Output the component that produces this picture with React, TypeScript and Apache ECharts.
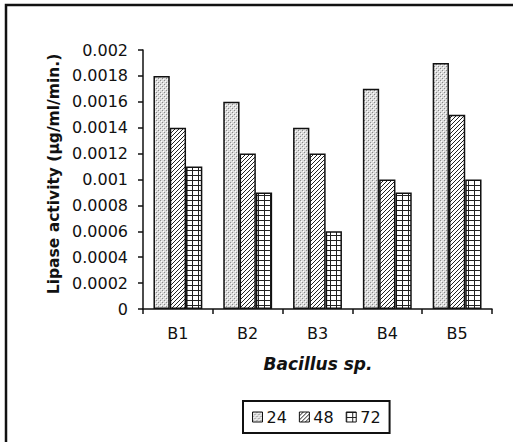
import React, { useEffect, useRef } from "react";
import * as echarts from "echarts";

const categories = ["B1", "B2", "B3", "B4", "B5"];
const seriesNames = ["24", "48", "72"];
const values24 = [0.0018, 0.0016, 0.0014, 0.0017, 0.0019];
const values48 = [0.0014, 0.0012, 0.0012, 0.001, 0.0015];
const values72 = [0.0011, 0.0009, 0.0006, 0.0009, 0.001];
const yTickLabels: Record<string, string> = {
  "0": "0", "0.0002": "0.0002", "0.0004": "0.0004", "0.0006": "0.0006", "0.0008": "0.0008",
  "0.001": "0.001", "0.0012": "0.0012", "0.0014": "0.0014", "0.0016": "0.0016", "0.0018": "0.0018", "0.002": "0.002",
};

function makeTile(kind: string) {
  const c = document.createElement("canvas");
  let w = 4, h = 4;
  if (kind === "brick") { w = 6; h = 5; }
  c.width = w; c.height = h;
  const ctx = c.getContext("2d")!;
  ctx.fillStyle = "#fff";
  ctx.fillRect(0, 0, w, h);
  if (kind === "dots") {
    ctx.fillStyle = "#dcdcdc";
    ctx.fillRect(0, 0, w, h);
    ctx.fillStyle = "#8a8a8a";
    ctx.fillRect(0, 0, 1, 1);
    ctx.fillRect(2, 2, 1, 1);
    ctx.fillStyle = "#ffffff";
    ctx.fillRect(1, 1, 1, 1);
    ctx.fillRect(3, 3, 1, 1);
  } else if (kind === "diag") {
    ctx.strokeStyle = "#222";
    ctx.lineWidth = 1;
    ctx.beginPath();
    ctx.moveTo(-1, 5); ctx.lineTo(5, -1);
    ctx.moveTo(-1, 1); ctx.lineTo(1, -1);
    ctx.moveTo(3, 5); ctx.lineTo(5, 3);
    ctx.stroke();
  } else {
    ctx.fillStyle = "#222";
    ctx.fillRect(0, 0, w, 1);
    ctx.fillRect(0, 0, 1, h);
  }
  return { image: c.toDataURL(), repeat: "repeat", imageWidth: w, imageHeight: h } as any;
}

export default function App() {
  const ref = useRef<HTMLDivElement>(null);
  useEffect(() => {
    if (!ref.current) return;
    const chart = echarts.init(ref.current, null, { renderer: "svg" });
    const fills = [makeTile("dots"), makeTile("diag"), makeTile("brick")];
    const data = [values24, values48, values72];
    const font = "'DejaVu Sans', Verdana, sans-serif";
    chart.setOption({
      animation: false,
      backgroundColor: "#fff",
      textStyle: { fontFamily: font, color: "#111" },
      graphic: [
        {
          type: "rect",
          shape: { x: 6, y: 5, width: 700, height: 700 },
          style: { fill: "none", stroke: "#111", lineWidth: 2.5 },
          silent: true,
        },
        {
          type: "text",
          x: 54,
          y: 174,
          rotation: Math.PI / 2,
          style: {
            text: "Lipase activity (µg/ml/min.)",
            font: `bold 15.5px ${font}`,
            fill: "#111",
            align: "center",
            verticalAlign: "middle",
          },
        },
        {
          type: "text",
          x: 318,
          y: 364,
          style: {
            text: "Bacillus sp.",
            font: `italic bold 17px ${font}`,
            fill: "#111",
            align: "center",
            verticalAlign: "middle",
          },
        },
      ],
      grid: { left: 143, right: 21, top: 50, bottom: 133, containLabel: false },
      legend: {
        left: 243,
        top: 401,
        data: seriesNames,
        icon: "rect",
        itemWidth: 10,
        itemHeight: 10,
        itemGap: 12,
        padding: [8, 9, 8, 9],
        borderColor: "#111",
        borderWidth: 2,
        textStyle: { fontSize: 16, fontFamily: font, color: "#111", padding: [0, 0, 0, -1] },
        itemStyle: { borderColor: "#111", borderWidth: 1 },
      },
      xAxis: {
        type: "category",
        data: categories,
        axisLine: { lineStyle: { color: "#111", width: 1.5 } },
        axisTick: { show: true, length: 5, lineStyle: { color: "#111", width: 1.5 } },
        axisLabel: { fontSize: 16, color: "#111", fontFamily: font, margin: 16 },
      },
      yAxis: {
        type: "value",
        min: 0,
        max: 0.002,
        interval: 0.0002,
        splitLine: { show: false },
        axisLine: { show: true, lineStyle: { color: "#111", width: 1.5 } },
        axisTick: { show: true, length: 5, lineStyle: { color: "#111", width: 1.5 } },
        axisLabel: {
          fontSize: 16,
          color: "#111",
          fontFamily: font,
          margin: 15,
          formatter: (v: number) => {
            const k = String(parseFloat(v.toPrecision(6)));
            return yTickLabels[k] ?? k;
          },
        },
      },
      series: seriesNames.map((name, i) => ({
        name,
        type: "bar",
        data: data[i],
        barGap: "0%",
        barCategoryGap: "30%",
        itemStyle: { color: fills[i], borderColor: "#111", borderWidth: 1.5 },
      })),
    });
    return () => chart.dispose();
  }, []);
  return (
    <div
      ref={ref}
      style={{ position: "fixed", left: 0, top: 0, width: 513, height: 442 }}
    />
  );
}
